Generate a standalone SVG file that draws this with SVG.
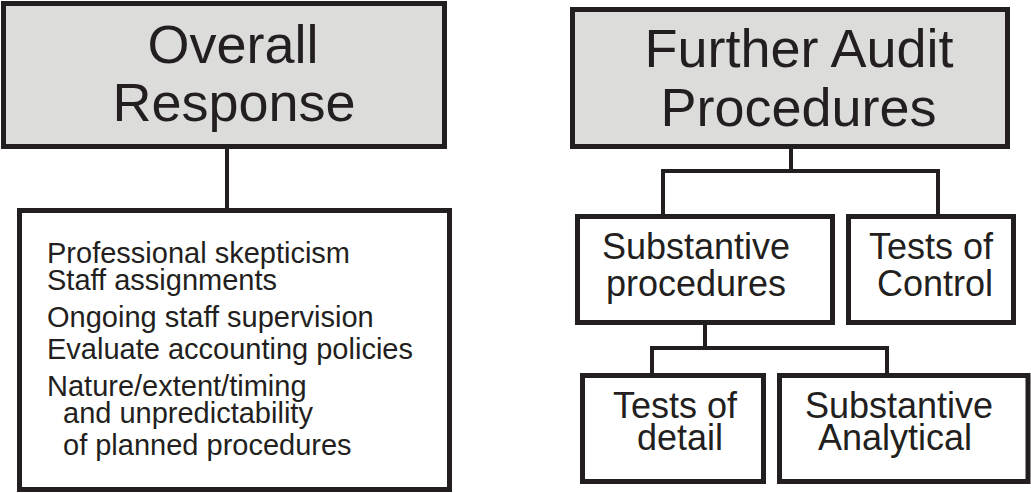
<svg xmlns="http://www.w3.org/2000/svg" width="1031" height="493" viewBox="0 0 1031 493">
<style>
.box{fill:#ffffff;stroke:#231f20;stroke-width:5}
.head{fill:#dcdcda;stroke:#231f20;stroke-width:5}
.conn{fill:none;stroke:#231f20;stroke-width:4}
text{font-family:"Liberation Sans",Arial,sans-serif;fill:#231f20}
.big{font-size:54px;text-anchor:middle}
.mid{font-size:36px;text-anchor:middle}
.list{font-size:29px}
</style>
<rect width="1031" height="493" fill="#ffffff"/>
<g id="connectors">
<path class="conn" d="M227,149 V210"/>
<path class="conn" d="M791,149 V171 M663,171 H938 M663,169 V215 M938,169 V215"/>
<path class="conn" d="M705,325 V348 M652,348 H887 M652,346 V375 M887,346 V375"/>
</g>
<g id="overall">
<rect class="head" x="3.5" y="3.5" width="441" height="143"/>
<text class="big" x="233" y="63">Overall</text>
<text class="big" x="234" y="121">Response</text>
</g>
<g id="overall-list">
<rect class="box" x="19.5" y="210.5" width="430" height="279"/>
<text class="list" x="47" y="263">Professional skepticism</text>
<text class="list" x="47" y="290">Staff assignments</text>
<text class="list" x="47" y="327">Ongoing staff supervision</text>
<text class="list" x="47" y="359">Evaluate accounting policies</text>
<text class="list" x="47" y="396">Nature/extent/timing</text>
<text class="list" x="63" y="423">and unpredictability</text>
<text class="list" x="63" y="455">of planned procedures</text>
</g>
<g id="further">
<rect class="head" x="572.5" y="9.5" width="435" height="137"/>
<text class="big" x="799" y="67">Further Audit</text>
<text class="big" x="798.5" y="126">Procedures</text>
</g>
<g id="substantive">
<rect class="box" x="577.5" y="216.5" width="255" height="106"/>
<text class="mid" x="696" y="259">Substantive</text>
<text class="mid" x="696" y="296">procedures</text>
</g>
<g id="control">
<rect class="box" x="848.5" y="216.5" width="165" height="106"/>
<text class="mid" x="931" y="259">Tests of</text>
<text class="mid" x="935" y="296">Control</text>
</g>
<g id="detail">
<rect class="box" x="582.5" y="375.5" width="181" height="106"/>
<text class="mid" x="675" y="418">Tests of</text>
<text class="mid" x="680" y="450">detail</text>
</g>
<g id="analytical">
<rect class="box" x="779.5" y="375.5" width="248.5" height="106"/>
<text class="mid" x="899" y="418">Substantive</text>
<text class="mid" x="895" y="450">Analytical</text>
</g>
</svg>
